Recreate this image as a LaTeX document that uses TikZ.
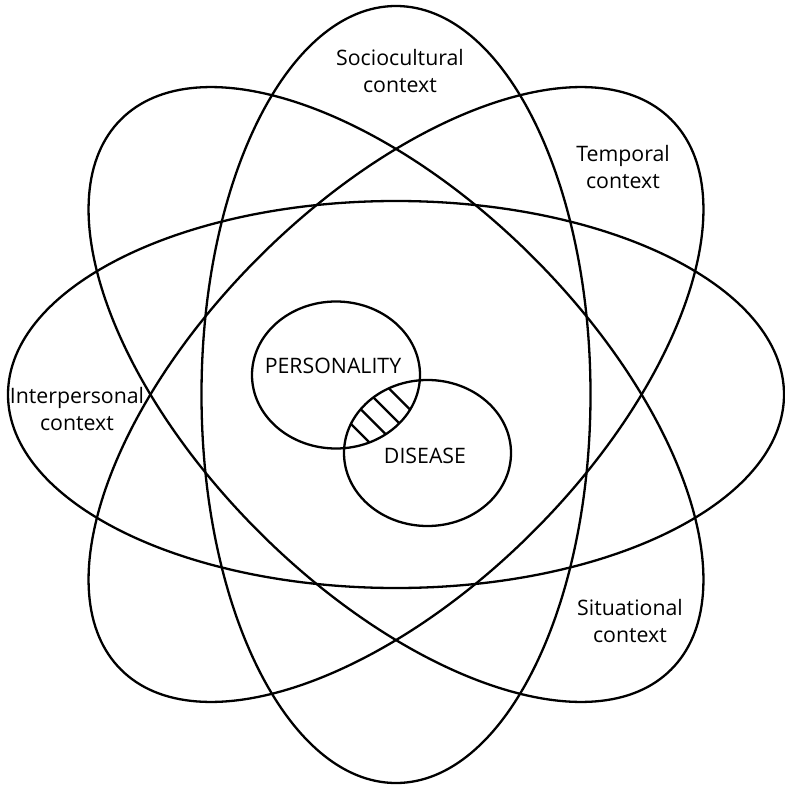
\documentclass[tikz,border=0pt]{standalone}
\usepackage{fontspec}
\setmainfont{Open Sans}
\begin{document}
\begin{tikzpicture}[x=1pt,y=-1pt,
  ring/.style={draw, line width=2.3pt},
  hatch/.style={line width=2.3pt},
  lbl/.style={align=center, inner sep=0pt, font=\fontsize{21.3}{27}\selectfont}]
\useasboundingbox (0,0) rectangle (784,786);

% four congruent context ellipses around a common centre
\coordinate (ctr) at (396,394.5);
\draw[ring] (ctr) ellipse [x radius=388, y radius=193.5];
\draw[ring] (ctr) ellipse [x radius=194.5, y radius=388.5];
\draw[ring, rotate around={45:(ctr)}] (ctr) ellipse [x radius=389, y radius=194];
\draw[ring, rotate around={-45:(ctr)}] (ctr) ellipse [x radius=389, y radius=194];

% personality and disease, with their overlap hatched
\coordinate (pc) at (336,375);
\coordinate (dc) at (427.5,453);
\begin{scope}
  \clip (pc) ellipse [x radius=84, y radius=73.5];
  \clip (dc) ellipse [x radius=83.5, y radius=73];
  \foreach \c in {0.5,-24,-48.5,-73}
    \draw[hatch] (320,320-\c) -- (470,470-\c);
\end{scope}
\draw[ring] (pc) ellipse [x radius=84, y radius=73.5];
\draw[ring] (dc) ellipse [x radius=83.5, y radius=73];

\node[lbl] (pers) at (333,366) {PERSONALITY};
\node[lbl] (dis) at (425,456) {DISEASE};

\node[lbl] (soc) at (400,71) {Sociocultural\\context};
\node[lbl] (tem) at (623,167) {Temporal\\context};
\node[lbl] (int) at (77,409) {Interpersonal\\context};
\node[lbl] (sit) at (630,621) {Situational\\context};
\end{tikzpicture}
\end{document}
